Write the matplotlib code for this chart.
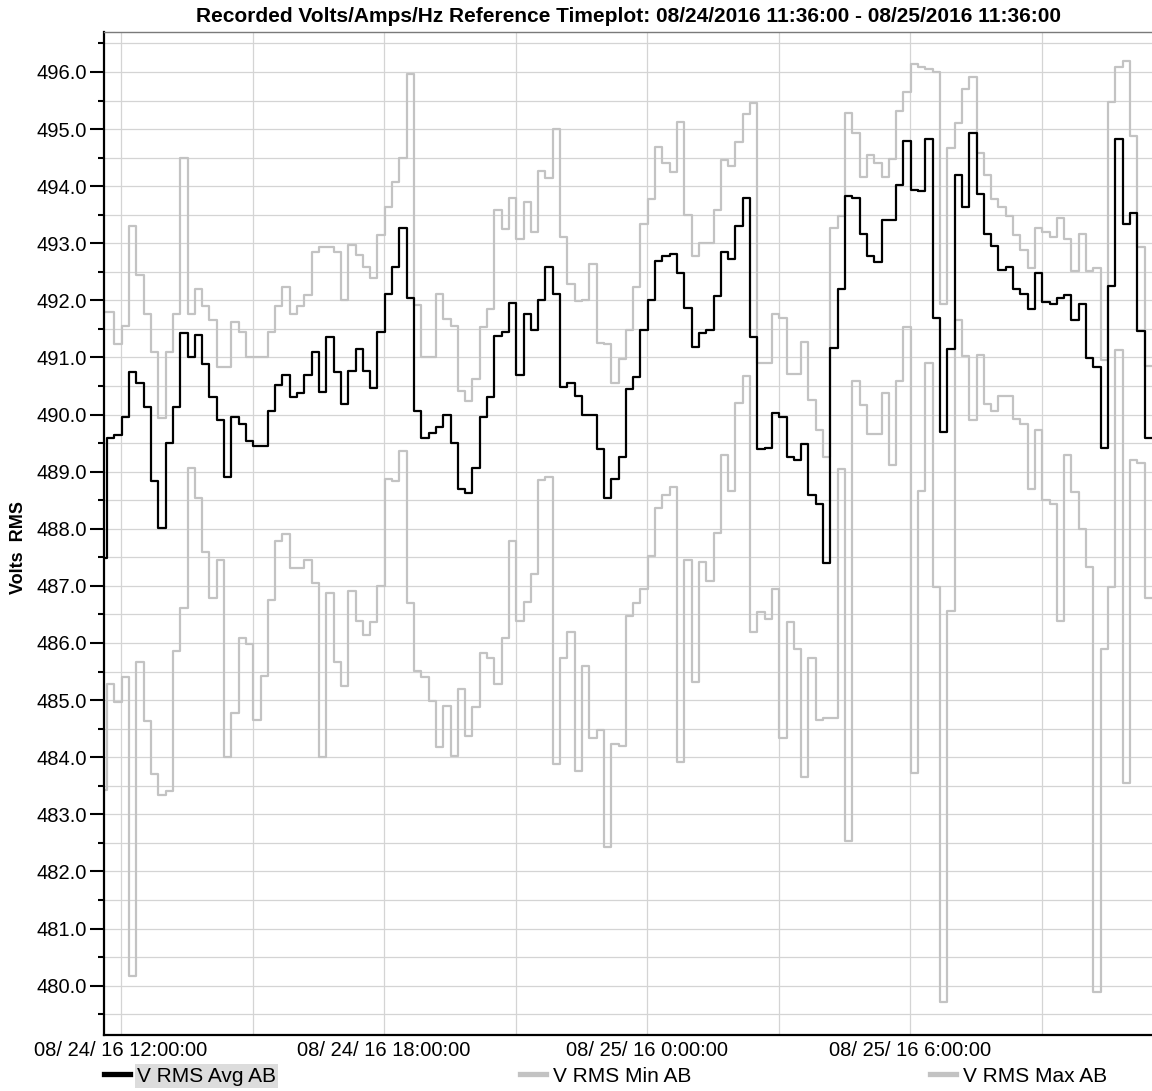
import numpy as np
import matplotlib
matplotlib.use('Agg')
import matplotlib.pyplot as plt
import matplotlib.dates as mdates
from matplotlib.ticker import MultipleLocator, FormatStrFormatter, FuncFormatter
from matplotlib.lines import Line2D

plt.rcParams['font.family'] = ['Liberation Sans', 'DejaVu Sans']

# ---------------- data (10-minute records) ----------------
series_labels = ['V RMS Avg AB', 'V RMS Min AB', 'V RMS Max AB']
title_text = 'Recorded Volts/Amps/Hz Reference Timeplot: 08/24/2016 11:36:00 - 08/25/2016 11:36:00'
ylabel_text = 'Volts  RMS'
first_record = '2016-08-24T11:31'
range_start = '2016-08-24T11:36'
range_end = '2016-08-25T11:36'

v_avg = [487.49,
    489.59, 489.64, 489.95, 490.74, 490.56, 490.14, 488.84, 488.02, 489.51, 490.14,
    491.43, 491.00, 491.39, 490.88, 490.30, 489.90, 488.91, 489.95, 489.84, 489.53,
    489.45, 489.45, 490.07, 490.52, 490.70, 490.30, 490.38, 490.70, 491.10, 490.40,
    491.35, 490.74, 490.19, 490.77, 491.15, 490.77, 490.47, 491.44, 492.12, 492.58,
    493.27, 492.04, 490.07, 489.59, 489.67, 489.79, 490.00, 489.51, 488.70, 488.63,
    489.07, 489.95, 490.30, 491.38, 491.44, 491.96, 490.69, 491.76, 491.49, 492.01,
    492.58, 492.12, 490.49, 490.56, 490.33, 490.00, 490.00, 489.40, 488.54, 488.87,
    489.26, 490.44, 490.66, 491.48, 492.00, 492.69, 492.78, 492.82, 492.48, 491.87,
    491.18, 491.43, 491.49, 492.07, 492.84, 492.73, 493.30, 493.80, 491.35, 489.39,
    489.42, 490.03, 489.96, 489.26, 489.20, 489.48, 488.60, 488.43, 487.40, 491.16,
    492.20, 493.83, 493.80, 493.17, 492.78, 492.67, 493.41, 493.41, 494.02, 494.79,
    493.94, 493.91, 494.82, 491.70, 489.70, 491.14, 494.19, 493.64, 494.93, 493.86,
    493.17, 492.95, 492.54, 492.58, 492.20, 492.12, 491.85, 492.48, 491.98, 491.93,
    492.04, 492.09, 491.65, 491.93, 490.99, 490.83, 489.42, 492.25, 494.82, 493.33,
    493.53, 491.46, 489.59]

v_max = [491.79,
    491.79, 491.24, 491.55, 493.30, 492.45, 491.77, 491.10, 489.94, 491.10, 491.77,
    494.49, 491.77, 492.20, 491.90, 491.66, 490.83, 490.83, 491.63, 491.44, 491.00,
    491.00, 491.00, 491.44, 491.90, 492.23, 491.77, 491.90, 492.10, 492.84, 492.93,
    492.93, 492.84, 492.01, 492.97, 492.80, 492.58, 492.40, 493.15, 493.64, 494.08,
    494.49, 495.96, 491.92, 491.00, 491.00, 492.12, 491.68, 491.55, 490.41, 490.23,
    490.63, 491.54, 491.85, 493.59, 493.25, 493.80, 493.08, 493.72, 493.20, 494.27,
    494.14, 495.01, 493.11, 492.29, 491.99, 492.01, 492.64, 491.26, 491.24, 490.56,
    490.97, 491.48, 492.23, 493.33, 493.77, 494.68, 494.41, 494.24, 495.13, 493.50,
    492.78, 493.00, 493.00, 493.58, 494.46, 494.35, 494.77, 495.26, 495.45, 490.90,
    490.90, 491.77, 491.70, 490.71, 490.71, 491.27, 490.25, 489.73, 489.26, 493.26,
    493.48, 495.28, 494.93, 494.16, 494.55, 494.41, 494.16, 494.47, 495.32, 495.65,
    496.14, 496.09, 496.05, 496.00, 491.93, 494.66, 495.10, 495.70, 495.92, 494.58,
    494.19, 493.77, 493.63, 493.48, 493.15, 492.89, 492.56, 493.26, 493.20, 493.11,
    493.44, 493.08, 492.51, 493.17, 492.51, 492.56, 490.96, 495.48, 496.09, 496.20,
    494.88, 492.93, 490.85]

v_min = [483.42,
    485.29, 484.96, 485.40, 480.16, 485.67, 484.63, 483.71, 483.33, 483.40, 485.86,
    486.61, 489.07, 488.54, 487.60, 486.78, 487.46, 484.00, 484.77, 486.08, 485.98,
    484.66, 485.43, 486.75, 487.79, 487.91, 487.31, 487.31, 487.46, 487.05, 484.00,
    486.87, 485.67, 485.25, 486.91, 486.39, 486.14, 486.36, 487.00, 488.87, 488.84,
    489.37, 486.70, 485.51, 485.40, 484.99, 484.17, 484.90, 484.02, 485.20, 484.37,
    484.88, 485.82, 485.73, 485.29, 486.09, 487.79, 486.39, 486.72, 487.20, 488.85,
    488.90, 483.88, 485.73, 486.20, 483.75, 485.60, 484.33, 484.48, 482.42, 484.23,
    484.20, 486.47, 486.70, 486.94, 487.52, 488.37, 488.60, 488.74, 483.91, 487.46,
    485.32, 487.42, 487.09, 487.93, 489.29, 488.67, 490.21, 490.67, 486.20, 486.55,
    486.42, 486.94, 484.34, 486.36, 485.90, 483.66, 485.73, 484.65, 484.68, 484.68,
    489.04, 482.53, 490.58, 490.16, 489.66, 489.66, 490.38, 489.11, 490.58, 491.54,
    483.72, 488.67, 490.91, 486.98, 479.72, 486.56, 491.66, 491.02, 489.90, 491.04,
    490.19, 490.06, 490.33, 490.33, 489.92, 489.84, 488.70, 489.73, 488.51, 488.43,
    486.39, 489.29, 488.65, 487.99, 487.33, 479.89, 485.90, 486.98, 491.13, 483.55,
    489.20, 489.15, 486.78]

# ---------------- build step series ----------------
t0 = np.datetime64(first_record)
times = t0 + np.arange(len(v_avg)) * np.timedelta64(10, 'm')
t_end = np.datetime64(range_end)
x = np.append(times, t_end)

def ext(v):
    return np.append(np.asarray(v, dtype=float), v[-1])

W, H = 1152, 1091
fig = plt.figure(figsize=(W / 100, H / 100), dpi=100)
ax = fig.add_axes([103.5 / W, 1 - 1035 / H, 1052 / W, (1035 - 32) / H])

gray = '#c3c3c3'
l_max, = ax.step(x, ext(v_max), where='post', color=gray, lw=1.6, zorder=2)
l_min, = ax.step(x, ext(v_min), where='post', color=gray, lw=1.6, zorder=2)
l_avg, = ax.step(x, ext(v_avg), where='post', color='black', lw=1.6, zorder=3)

ax.set_xlim(np.datetime64(range_start), t_end)
ax.set_ylim(479.135, 496.70)

# y axis
ax.yaxis.set_major_locator(MultipleLocator(1.0))
ax.yaxis.set_minor_locator(MultipleLocator(0.5))
ax.yaxis.set_major_formatter(FormatStrFormatter('%.1f'))
ax.tick_params(axis='y', which='major', length=10, width=1.5, labelsize=14.5, pad=2, direction='out')
ax.tick_params(axis='y', which='minor', length=4.5, width=1.5, direction='out')

# x axis
ax.xaxis.set_major_locator(mdates.HourLocator(byhour=[0, 6, 12, 18]))
ax.xaxis.set_minor_locator(mdates.HourLocator(byhour=[3, 9, 15, 21]))

def fmt_date(v, pos=None):
    d = mdates.num2date(v)
    return f"{d.month:02d}/ {d.day:02d}/ {d.year % 100:02d} {d.hour}:{d.minute:02d}:{d.second:02d}"

ax.xaxis.set_major_formatter(FuncFormatter(fmt_date))
ax.tick_params(axis='x', which='both', length=0, labelsize=14.5, pad=4)

ax.set_axisbelow(True)
ax.grid(which='both', axis='both', color='#d4d4d4', lw=0.9)

for side in ['left', 'bottom']:
    ax.spines[side].set_color('black')
    ax.spines[side].set_linewidth(1.6)
ax.spines['top'].set_color('#7a7a7a')
ax.spines['top'].set_linewidth(1.0)
ax.spines['right'].set_visible(False)

fig.text(628 / W, 1 - 17 / H, title_text, ha='center', va='center',
         fontsize=15, fontweight='bold')
fig.text(19 / W, 1 - 548 / H, ylabel_text, ha='center', va='center',
         rotation=90, fontsize=13, fontweight='bold')

# legend (three entries spread along the bottom)
leg_x = [104, 520, 930]
handles = [Line2D([], [], color='black', lw=3.8),
           Line2D([], [], color=gray, lw=3.8),
           Line2D([], [], color=gray, lw=3.8)]
for i, (hx, h, lab) in enumerate(zip(leg_x, handles, series_labels)):
    lg = fig.legend([h], [lab], loc='center left',
                    bbox_to_anchor=(hx / W, 1 - 1076 / H),
                    frameon=False, fontsize=15, handlelength=1.25,
                    handletextpad=0.35, borderpad=0, borderaxespad=0)
    if i == 0:
        lg.get_texts()[0].set_bbox(dict(facecolor='#dcdcdc', edgecolor='none', pad=1.5))

fig.savefig('out.png', dpi=100)
